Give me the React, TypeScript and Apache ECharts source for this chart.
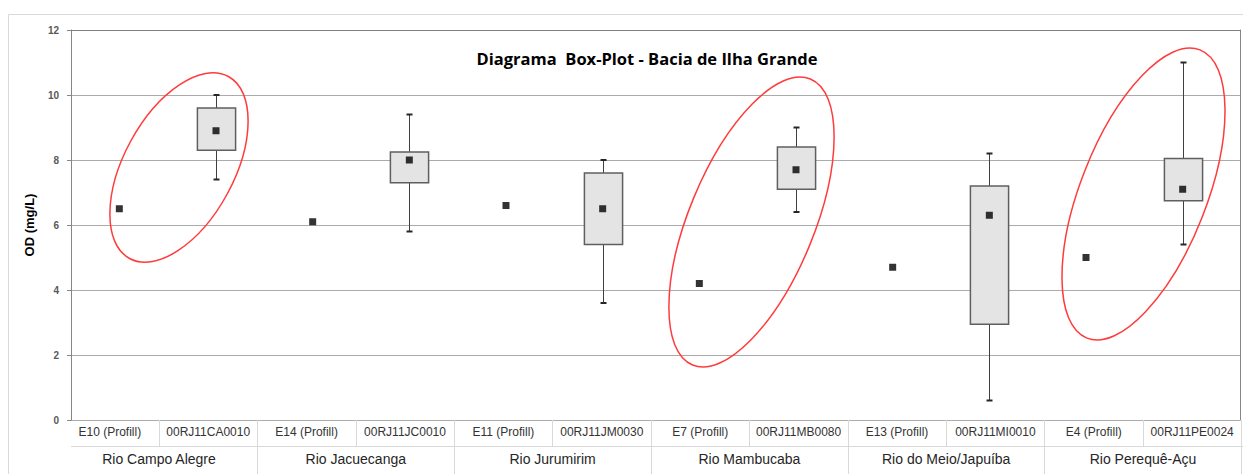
import React, { useEffect, useRef } from "react";
import * as echarts from "echarts";

// ---- data ----
const categories = [
  "E10 (Profill)", "00RJ11CA0010",
  "E14 (Profill)", "00RJ11JC0010",
  "E11 (Profill)", "00RJ11JM0030",
  "E7 (Profill)", "00RJ11MB0080",
  "E13 (Profill)", "00RJ11MI0010",
  "E4 (Profill)", "00RJ11PE0024",
];
const groups = [
  "Rio Campo Alegre", "Rio Jacuecanga", "Rio Jurumirim",
  "Rio Mambucaba", "Rio do Meio/Japuíba", "Rio Perequê-Açu",
];
const means = [6.5, 8.9, 6.1, 8.0, 6.6, 6.5, 4.2, 7.7, 4.7, 6.3, 5.0, 7.1];
const lows = [null, 7.4, null, 5.8, null, 3.6, null, 6.4, null, 0.6, null, 5.4];
const q1s = [null, 8.3, null, 7.3, null, 5.4, null, 7.1, null, 2.95, null, 6.75];
const q3s = [null, 9.6, null, 8.25, null, 7.6, null, 8.4, null, 7.2, null, 8.05];
const highs = [null, 10.0, null, 9.4, null, 8.0, null, 9.0, null, 8.2, null, 11.0];
const yMin = 0;
const yMax = 12;
const yStep = 2;
const titleText = "Diagrama  Box-Plot - Bacia de Ilha Grande";
const yName = "OD (mg/L)";

// annotation ellipses (pixel space): cx, cy, rx, ry, rotation(deg)
const ellipses = [
  [179, 167.5, 103.5, 55, 61.5],
  [751.5, 222, 154.6, 62.6, 67.6],
  [1143.5, 194, 154.8, 63.1, 68.6],
];

const boxData: number[][] = [];
categories.forEach((_, i) => {
  if (lows[i] != null) boxData.push([i, lows[i] as number, q1s[i] as number, q3s[i] as number, highs[i] as number]);
});

const labelFont = "'Liberation Sans', Arial, sans-serif";

function buildOption(): any {
  return {
    animation: false,
    backgroundColor: "#ffffff",
    grid: [
      { left: 71, top: 30, width: 1169, height: 390 },
      { left: 71, top: 30, width: 1160, height: 390 },
      { left: 60.6, top: 420, width: 1180.8, height: 26 },
      { left: 60.6, top: 446, width: 1180.8, height: 28 },
    ],
    xAxis: [
      {
        gridIndex: 0, type: "category", data: categories, position: "top",
        axisLine: { show: true, onZero: false, lineStyle: { color: "#7f7f7f", width: 1 } },
        axisTick: { show: false }, axisLabel: { show: false }, splitLine: { show: false },
      },
      { gridIndex: 1, type: "category", data: categories, show: false },
      {
        gridIndex: 2, type: "category", data: categories, position: "top",
        axisLine: { show: false, onZero: false },
        axisTick: { show: true, inside: true, length: 26, interval: (i: number) => i !== 0, lineStyle: { color: "#d9d9d9" } },
        axisLabel: { inside: true, margin: 6, interval: 0, fontSize: 12, color: "#333333", fontFamily: labelFont },
        splitLine: { show: false },
      },
      {
        gridIndex: 3, type: "category", data: groups, position: "top",
        axisLine: { show: false, onZero: false },
        axisTick: { show: true, inside: true, length: 28, interval: (i: number) => i !== 0, lineStyle: { color: "#d9d9d9" } },
        axisLabel: { inside: true, margin: 6, interval: 0, fontSize: 14, color: "#262626", fontFamily: labelFont },
        splitLine: { show: false },
      },
    ],
    yAxis: [
      {
        gridIndex: 0, type: "value", min: yMin, max: yMax, interval: yStep,
        axisLine: { show: true, onZero: false, lineStyle: { color: "#868686" } },
        axisTick: { show: true, length: 4, lineStyle: { color: "#868686" } },
        axisLabel: { fontSize: 10, fontWeight: "bold", color: "#595959", margin: 12, fontFamily: labelFont },
        splitLine: { show: true, lineStyle: { color: "#ababab", width: 1 } },
        name: yName, nameLocation: "middle", nameGap: 35,
        nameTextStyle: { fontSize: 13, fontWeight: "bold", color: "#000000", fontFamily: labelFont },
      },
      {
        gridIndex: 0, type: "value", min: yMin, max: yMax, interval: yStep, position: "right",
        axisLine: { show: true, onZero: false, lineStyle: { color: "#868686" } },
        axisTick: { show: false }, axisLabel: { show: false }, splitLine: { show: false },
      },
      { gridIndex: 1, type: "value", min: yMin, max: yMax, interval: yStep, show: false },
      { gridIndex: 2, type: "value", show: false },
      { gridIndex: 3, type: "value", show: false },
    ],
    series: [
      {
        type: "custom",
        xAxisIndex: 1, yAxisIndex: 2,
        z: 2,
        encode: { x: 0, y: [1, 2, 3, 4] },
        data: boxData,
        renderItem: (params: any, api: any) => {
          const x = api.value(0);
          const pLow = api.coord([x, api.value(1)]);
          const pQ1 = api.coord([x, api.value(2)]);
          const pQ3 = api.coord([x, api.value(3)]);
          const pHigh = api.coord([x, api.value(4)]);
          const band = api.size([1, 0])[0];
          const bw = band * 0.395;
          const cw = 6;
          const cx = Math.round(pLow[0]) + 0.5;
          const whisker = { stroke: "#404040", lineWidth: 1 };
          const cap = { stroke: "#262626", lineWidth: 2 };
          return {
            type: "group",
            children: [
              { type: "line", shape: { x1: cx, y1: pHigh[1], x2: cx, y2: pQ3[1] }, style: whisker },
              { type: "line", shape: { x1: cx, y1: pQ1[1], x2: cx, y2: pLow[1] }, style: whisker },
              { type: "line", shape: { x1: cx - cw / 2, y1: pHigh[1], x2: cx + cw / 2, y2: pHigh[1] }, style: cap },
              { type: "line", shape: { x1: cx - cw / 2, y1: pLow[1], x2: cx + cw / 2, y2: pLow[1] }, style: cap },
              {
                type: "rect",
                shape: { x: cx - bw / 2, y: pQ3[1], width: bw, height: pQ1[1] - pQ3[1] },
                style: { fill: "#e4e4e4", stroke: "#5f5f5f", lineWidth: 1.5 },
              },
            ],
          };
        },
      },
      {
        type: "scatter",
        xAxisIndex: 1, yAxisIndex: 2,
        z: 3,
        symbol: "rect",
        symbolSize: 7,
        itemStyle: { color: "#000000" },
        data: means,
      },
    ],
    graphic: [
      {
        type: "rect", z: -10, silent: true,
        shape: { x: 8.5, y: 14.5, width: 1260, height: 480 },
        style: { fill: "none", stroke: "#d9d9d9", lineWidth: 1 },
      },
      {
        type: "line", silent: true,
        shape: { x1: 71, y1: 446.5, x2: 1243, y2: 446.5 },
        style: { stroke: "#d9d9d9", lineWidth: 1 },
      },
      {
        type: "text", silent: true, x: 647, y: 58,
        style: {
          text: titleText, align: "center", verticalAlign: "middle",
          font: "bold 16.5px 'Open Sans', sans-serif", fill: "#000000",
        },
      },
      ...ellipses.map(([cx, cy, rx, ry, rot]) => ({
        type: "ellipse", silent: true, z: 100,
        x: cx, y: cy, rotation: (rot * Math.PI) / 180,
        shape: { cx: 0, cy: 0, rx, ry },
        style: { fill: "none", stroke: "#ff3b3b", lineWidth: 1.5 },
      })),
    ],
  };
}

export default function App() {
  const ref = useRef<HTMLDivElement>(null);
  useEffect(() => {
    if (!ref.current) return;
    const chart = echarts.init(ref.current, undefined, { renderer: "svg" });
    chart.setOption(buildOption());
    return () => chart.dispose();
  }, []);
  return (
    <div
      ref={ref}
      style={{ position: "absolute", left: 0, top: 0, width: 1243, height: 474, background: "#ffffff" }}
    />
  );
}
